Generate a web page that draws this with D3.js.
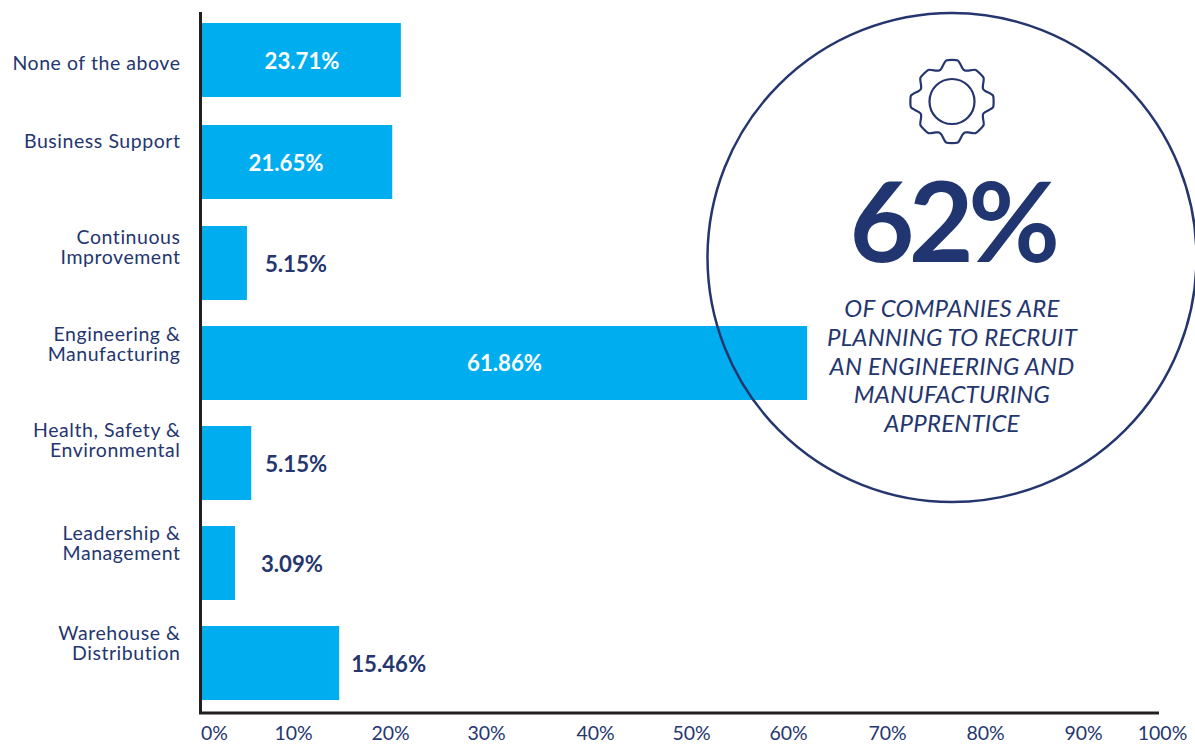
<!DOCTYPE html>
<html>
<head>
<meta charset="utf-8">
<script src="https://d3js.org/d3.v7.min.js"></script>
<style>
  html, body { margin: 0; background: #fff; }
  svg { display: block; }
  text { font-family: Lato, "Open Sans", sans-serif; }
</style>
</head>
<body>
<div id="visualization"></div>
<script>
const categories = ["None of the above", "Business Support", "Continuous Improvement", "Engineering & Manufacturing", "Health, Safety & Environmental", "Leadership & Management", "Warehouse & Distribution"];
// the figures printed on the bars
const printedValues = [23.71, 21.65, 5.15, 61.86, 5.15, 3.09, 15.46];
// the bars in the picture do not quite follow their figures, so lengths are read against the axis
const barValues = [20.8, 19.9, 4.7, 63.3, 5.15, 3.45, 14.35];
const categoryLines = [["None of the above"], ["Business Support"], ["Continuous", "Improvement"], ["Engineering &", "Manufacturing"], ["Health, Safety &", "Environmental"], ["Leadership &", "Management"], ["Warehouse &", "Distribution"]];
const tickValues = [0, 10, 20, 30, 40, 50, 60, 70, 80, 90, 100];
const calloutFigure = "62%";
const calloutLines = ["OF COMPANIES ARE", "PLANNING TO RECRUIT", "AN ENGINEERING AND", "MANUFACTURING", "APPRENTICE"];

const width = 1195, height = 747;
const navy = "#25366f", blue = "#00aeef", axisColor = "#231f20";

const svg = d3.select("#visualization").append("svg")
    .attr("width", width)
    .attr("height", height);

// scales
const x = d3.scaleLinear().domain([0, 100]).range([202, 1158]);
const rowTop = d3.scaleOrdinal().domain(categories).range([23, 125, 226, 326, 426, 526, 626]);
const barHeight = 74;
// the tick labels sit unevenly in the original
const tickX = d3.scaleLinear().domain(tickValues).range([214, 293, 390, 486, 595, 691, 788, 887, 985, 1083, 1162]);
// baseline of the first line of each category label
const labelY = d3.scaleOrdinal().domain(categories).range([70, 148, 244, 341, 437, 540, 640]);
// centre of the printed figure
const valueY = d3.scaleOrdinal().domain(categories).range([61, 163, 264, 363, 464, 564, 664]);

svg.selectAll("rect.bar")
    .data(categories)
    .enter().append("rect")
    .attr("class", "bar")
    .attr("x", x(0))
    .attr("y", d => rowTop(d))
    .attr("width", (d, i) => x(barValues[i]) - x(0))
    .attr("height", barHeight)
    .attr("fill", blue);

// printed figures: inside the long bars, beside the short ones
const insideX = [302, 286, null, 504.5, null, null, null];
const outsideGap = [0, 0, 18, 0, 14, 26, 12];
svg.selectAll("text.value")
    .data(categories)
    .enter().append("text")
    .attr("class", "value")
    .attr("x", (d, i) => insideX[i] !== null ? insideX[i] : x(barValues[i]) + outsideGap[i])
    .attr("y", d => valueY(d))
    .attr("dy", "0.35em")
    .attr("text-anchor", (d, i) => insideX[i] !== null ? "middle" : "start")
    .attr("font-size", 22.2)
    .attr("font-weight", 700)
    .attr("fill", (d, i) => insideX[i] !== null ? "#fff" : navy)
    .text((d, i) => printedValues[i].toFixed(2) + "%");

// category labels
const labels = svg.selectAll("text.category")
    .data(categories)
    .enter().append("text")
    .attr("class", "category")
    .attr("text-anchor", "end")
    .attr("font-size", 19.5)
    .attr("letter-spacing", 0.55)
    .attr("fill", navy);
labels.selectAll("tspan")
    .data((d, i) => categoryLines[i].map((line, j) => ({line, j, d})))
    .enter().append("tspan")
    .attr("x", 180.5)
    .attr("y", t => labelY(t.d) + t.j * 19.5)
    .text(t => t.line);

// axes
const axisBottom = d3.axisBottom(tickX)
    .tickValues(tickValues)
    .tickSize(0)
    .tickPadding(0)
    .tickFormat(d => d + "%");
const axisG = svg.append("g")
    .attr("transform", "translate(0,726)")
    .call(axisBottom);
axisG.select(".domain").remove();
axisG.selectAll("text")
    .attr("font-size", 19.5)
    .attr("fill", navy)
    .style("font-family", "Lato, sans-serif");

svg.append("path")
    .attr("d", d3.line()([[x(0) - 1.5, 12], [x(0) - 1.5, 713], [1159, 713]]))
    .attr("fill", "none")
    .attr("stroke", axisColor)
    .attr("stroke-width", 3);

// callout
const cx = 952, cy = 257.5;
svg.append("circle")
    .attr("cx", cx)
    .attr("cy", cy)
    .attr("r", 244.5)
    .attr("fill", "none")
    .attr("stroke", navy)
    .attr("stroke-width", 2.5);

// gear icon, eight teeth, the diagonal ones a little shorter
const gearPoints = [];
d3.range(8).forEach(k => {
    const a = k * Math.PI / 4;
    const tip = k % 2 ? 39.5 : 41.5;
    [[-0.3, 35], [-0.14, tip], [0.14, tip], [0.3, 35], [Math.PI / 8, 33.5]].forEach(p => {
        gearPoints.push([cx + p[1] * Math.sin(a + p[0]), 101.5 - p[1] * Math.cos(a + p[0])]);
    });
});
svg.append("path")
    .attr("d", d3.line().curve(d3.curveCardinalClosed.tension(0.45))(gearPoints))
    .attr("fill", "none")
    .attr("stroke", navy)
    .attr("stroke-width", 2.2);
svg.append("circle")
    .attr("cx", cx)
    .attr("cy", 101.5)
    .attr("r", 22.5)
    .attr("fill", "none")
    .attr("stroke", navy)
    .attr("stroke-width", 2.2);

svg.append("text")
    .attr("x", cx)
    .attr("y", 262)
    .attr("text-anchor", "middle")
    .attr("font-size", 112)
    .attr("font-weight", 700)
    .attr("letter-spacing", -5.5)
    .attr("fill", "#213670")
    .text(calloutFigure);

svg.selectAll("text.callout")
    .data(calloutLines)
    .enter().append("text")
    .attr("class", "callout")
    .attr("x", cx)
    .attr("y", (d, i) => 317 + i * 28.8)
    .attr("text-anchor", "middle")
    .attr("font-size", 24)
    .attr("font-style", "italic")
    .attr("letter-spacing", 0.2)
    .attr("fill", navy)
    .text(d => d);
</script>
</body>
</html>
